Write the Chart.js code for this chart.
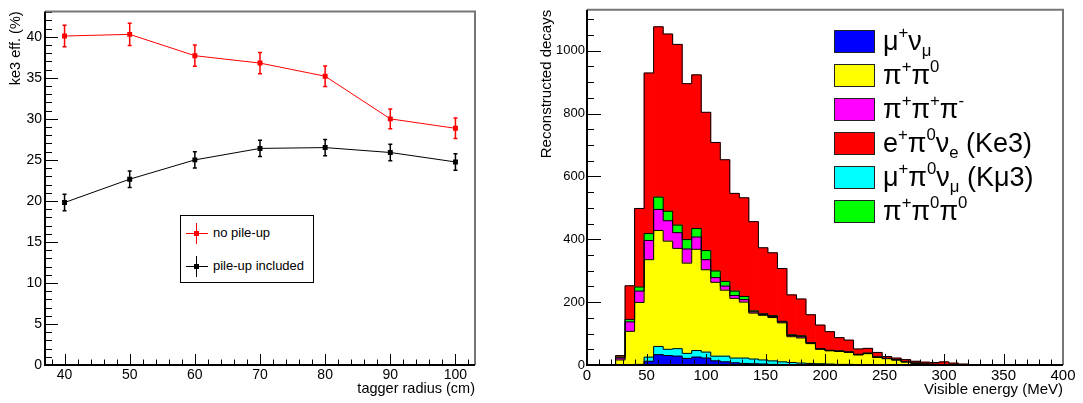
<!doctype html>
<html lang="en">
<head>
<meta charset="utf-8">
<title>Ke3 efficiency and visible energy</title>
<script src="https://cdn.jsdelivr.net/npm/chart.js@4.4.1/dist/chart.umd.min.js"></script>
<style>
  body { margin: 0; background: #fff; font-family: "Liberation Sans", Arial, sans-serif; }
  #wrap { position: relative; width: 1083px; height: 403px; overflow: hidden; }
  canvas { position: absolute; top: 0; }
  #effChart { left: 0; }
  #energyChart { left: 530px; }

  /* left legend */
  #effLegend { position: absolute; left: 180px; top: 215px; width: 132px; height: 66px; border: 1px solid #000; background: #fff; }
  #effLegend .row { position: absolute; left: 0; width: 132px; height: 20px; }
  #effLegend .txt { position: absolute; left: 32px; top: 0; font-size: 13px; line-height: 20px; white-space: nowrap; }
  .mk-h { position: absolute; left: 5px; top: 10px; width: 22px; height: 1px; }
  .mk-v { position: absolute; left: 15px; top: 0; width: 1px; height: 21px; }
  .mk-s { position: absolute; left: 13px; top: 8px; width: 5px; height: 5px; }

  /* right legend */
  #decayLegend .box { position: absolute; left: 834px; width: 39px; height: 21px; border: 1px solid #222; }
  #decayLegend .txt { position: absolute; left: 883px; font-size: 27px; line-height: 23px; white-space: nowrap; }
  #decayLegend sup, #decayLegend sub { font-size: 62%; line-height: 0; position: relative; vertical-align: baseline; }
  #decayLegend sup { top: -0.72em; }
  #decayLegend sub { top: 0.38em; }
</style>
</head>
<body>
<div id="wrap">
  <canvas id="effChart" width="490" height="403"></canvas>
  <canvas id="energyChart" width="553" height="403"></canvas>

  <div id="effLegend">
    <div class="row" style="top:7px">
      <span class="mk-h" style="background:#ff0000"></span>
      <span class="mk-v" style="background:#ff0000"></span>
      <span class="mk-s" style="background:#ff0000"></span>
      <span class="txt">no pile-up</span>
    </div>
    <div class="row" style="top:40px">
      <span class="mk-h" style="background:#000"></span>
      <span class="mk-v" style="background:#000"></span>
      <span class="mk-s" style="background:#000"></span>
      <span class="txt">pile-up included</span>
    </div>
  </div>

  <div id="decayLegend">
    <div class="box" style="top:30px; background:#0000ff"></div>
    <div class="txt" style="top:30px">&mu;<sup>+</sup>&nu;<sub>&mu;</sub></div>
    <div class="box" style="top:64px; background:#ffff00"></div>
    <div class="txt" style="top:64px">&pi;<sup>+</sup>&pi;<sup>0</sup></div>
    <div class="box" style="top:98px; background:#ff00ff"></div>
    <div class="txt" style="top:98px">&pi;<sup>+</sup>&pi;<sup>+</sup>&pi;<sup>-</sup></div>
    <div class="box" style="top:132px; background:#ff0000"></div>
    <div class="txt" style="top:132px">e<sup>+</sup>&pi;<sup>0</sup>&nu;<sub>e</sub> (Ke3)</div>
    <div class="box" style="top:166px; background:#00ffff"></div>
    <div class="txt" style="top:166px">&mu;<sup>+</sup>&pi;<sup>0</sup>&nu;<sub>&mu;</sub> (K&mu;3)</div>
    <div class="box" style="top:200px; background:#00ff00"></div>
    <div class="txt" style="top:200px">&pi;<sup>+</sup>&pi;<sup>0</sup>&pi;<sup>0</sup></div>
  </div>
</div>

<script>
// ---- left panel: ke3 efficiency vs tagger radius ----
const radius = [40, 50, 60, 70, 80, 90, 100];
const effNoPileup = [40.1, 40.3, 37.7, 36.8, 35.2, 30.0, 28.85];
const errNoPileup = [1.3, 1.35, 1.3, 1.3, 1.25, 1.2, 1.25];
const effPileup = [19.8, 22.65, 25.0, 26.4, 26.5, 25.9, 24.75];
const errPileup = [1.0, 1.0, 1.0, 1.0, 1.0, 1.0, 1.0];

// ---- right panel: visible energy, 8 MeV bins (lower edges) ----
const energyBins = [24, 32, 40, 48, 56, 64, 72, 80, 88, 96, 104, 112, 120, 128, 136, 144, 152, 160, 168,
  176, 184, 192, 200, 208, 216, 224, 232, 240, 248, 256, 264, 272, 280, 288, 296, 304, 312, 320];
const binWidth = 8;
const countsMuNu = [0, 0, 1, 12, 33, 30, 28, 21, 25, 22, 13, 10, 7, 5, 4, 3, 2, 1, 1, 1,
  0, 0, 0, 0, 0, 0, 0, 0, 0, 0, 0, 0, 0, 0, 0, 0, 0, 0];
const countsKmu3 = [0, 1, 1, 13, 26, 20, 24, 16, 21, 19, 15, 18, 15, 17, 15, 13, 11, 9, 7, 5,
  5, 4, 3, 2, 2, 1, 1, 0, 0, 0, 0, 0, 0, 0, 0, 0, 0, 0];
const countsPiPi0 = [16, 106, 197, 310, 369, 344, 319, 287, 322, 262, 235, 210, 190, 178, 146, 142, 138, 124, 82, 80,
  63, 46, 42, 41, 38, 31, 35, 24, 20, 16, 10, 6, 3, 2, 1, 0, 0, 0];
const countsPiPiPi = [6, 30, 36, 61, 67, 65, 50, 45, 39, 32, 15, 13, 9, 8, 4, 3, 3, 3, 4, 4,
  2, 1, 1, 1, 1, 1, 1, 1, 1, 0, 0, 0, 0, 0, 0, 0, 0, 0];
const countsPiPi0Pi0 = [3, 8, 13, 22, 39, 30, 24, 30, 27, 29, 21, 15, 14, 10, 3, 2, 3, 2, 2, 3,
  1, 1, 1, 1, 1, 1, 1, 1, 0, 1, 0, 0, 0, 0, 0, 0, 0, 0];
const countsKe3 = [5, 107, 250, 511, 542, 564, 575, 496, 489, 440, 409, 387, 311, 314, 284, 210, 200, 168, 127, 117,
  89, 75, 59, 42, 37, 17, 15, 14, 6, 5, 7, 6, 6, 6, 9, 6, 3, 1];

Chart.defaults.font.family = '"Liberation Sans", Arial, sans-serif';
Chart.defaults.color = '#000';

// ROOT-like frame: ticks pointing inwards, minor ticks, grey top/right border
const rootAxes = {
  id: 'rootAxes',
  afterDraw(chart, args, o) {
    const { ctx, chartArea: a, scales: { x, y } } = chart;
    const isMajor = (v, step) => Math.abs(v / step - Math.round(v / step)) < 1e-6;
    ctx.save();
    ctx.strokeStyle = '#000';
    ctx.lineWidth = 1;
    ctx.beginPath();
    for (let v = Math.ceil(x.min / o.xMinor) * o.xMinor; v <= x.max + 1e-9; v += o.xMinor) {
      const px = Math.round(x.getPixelForValue(v)) + 0.5;
      const len = isMajor(v, o.xMajor) ? o.xMajorLen : o.xMinorLen;
      ctx.moveTo(px, a.bottom);
      ctx.lineTo(px, a.bottom - len);
    }
    for (let v = Math.ceil(y.min / o.yMinor) * o.yMinor; v <= y.max + 1e-9; v += o.yMinor) {
      const py = Math.round(y.getPixelForValue(v)) + 0.5;
      const len = isMajor(v, o.yMajor) ? o.yMajorLen : o.yMinorLen;
      ctx.moveTo(a.left, py);
      ctx.lineTo(a.left + len, py);
    }
    ctx.stroke();

    ctx.lineWidth = 2;
    ctx.strokeStyle = '#777';
    ctx.beginPath();
    ctx.moveTo(a.left, a.top);
    ctx.lineTo(a.right, a.top);
    ctx.lineTo(a.right, a.bottom);
    ctx.stroke();
    ctx.strokeStyle = '#000';
    ctx.beginPath();
    ctx.moveTo(a.left, a.top);
    ctx.lineTo(a.left, a.bottom);
    ctx.lineTo(a.right, a.bottom);
    ctx.stroke();
    ctx.restore();
  }
};

// vertical error bars with small caps
const errorBars = {
  id: 'errorBars',
  afterDatasetsDraw(chart) {
    const { ctx, scales: { y } } = chart;
    ctx.save();
    chart.data.datasets.forEach((ds, i) => {
      const meta = chart.getDatasetMeta(i);
      ctx.strokeStyle = ds.borderColor;
      ctx.lineWidth = 1.5;
      meta.data.forEach((pt, j) => {
        const v = ds.data[j].y, e = ds.errors[j];
        const top = y.getPixelForValue(v + e), bot = y.getPixelForValue(v - e);
        ctx.beginPath();
        ctx.moveTo(pt.x, top); ctx.lineTo(pt.x, bot);
        ctx.moveTo(pt.x - 2, top); ctx.lineTo(pt.x + 2, top);
        ctx.moveTo(pt.x - 2, bot); ctx.lineTo(pt.x + 2, bot);
        ctx.stroke();
      });
    });
    ctx.restore();
  }
};

function axisTitle(text, size, padding) {
  return { display: true, text: text, align: 'end', color: '#000', font: { size: size }, padding: padding };
}
const plainNumber = v => String(v);

new Chart(document.getElementById('effChart'), {
  type: 'line',
  data: {
    datasets: [
      {
        label: 'no pile-up',
        data: radius.map((r, i) => ({ x: r, y: effNoPileup[i] })),
        errors: errNoPileup,
        borderColor: '#ff0000', backgroundColor: '#ff0000',
        borderWidth: 1, pointStyle: 'rect', pointRadius: 3.5, pointBorderWidth: 0
      },
      {
        label: 'pile-up included',
        data: radius.map((r, i) => ({ x: r, y: effPileup[i] })),
        errors: errPileup,
        borderColor: '#000000', backgroundColor: '#000000',
        borderWidth: 1, pointStyle: 'rect', pointRadius: 3.5, pointBorderWidth: 0
      }
    ]
  },
  options: {
    responsive: false, animation: false, devicePixelRatio: 1,
    layout: { padding: { left: 0, top: 1, right: 15, bottom: 0 } },
    plugins: {
      legend: { display: false }, tooltip: { enabled: false },
      rootAxes: { xMajor: 10, xMinor: 2, xMajorLen: 11, xMinorLen: 5.5, yMajor: 5, yMinor: 1, yMajorLen: 13, yMinorLen: 7 }
    },
    scales: {
      x: {
        type: 'linear', min: 37, max: 103,
        grid: { display: false, drawTicks: false }, border: { display: false },
        ticks: { stepSize: 10, includeBounds: false, padding: 2, maxRotation: 0, font: { size: 14 }, callback: plainNumber },
        title: axisTitle('tagger radius (cm)', 14.5, { top: 0, bottom: 5 }),
        afterFit(s) { s.height = 38; }
      },
      y: {
        min: 0, max: 43.1,
        grid: { display: false, drawTicks: false }, border: { display: false },
        ticks: { stepSize: 5, includeBounds: false, padding: 3, font: { size: 14 }, callback: plainNumber },
        title: axisTitle('ke3 eff. (%)', 14.5, { top: 7, bottom: 0 }),
        afterFit(s) { s.width = 45; }
      }
    }
  },
  plugins: [errorBars, rootAxes]
});

// stacked histogram, bottom layer first
const layers = [
  { counts: countsMuNu, color: '#0000ff' },
  { counts: countsKmu3, color: '#00ffff' },
  { counts: countsPiPi0, color: '#ffff00' },
  { counts: countsPiPiPi, color: '#ff00ff' },
  { counts: countsPiPi0Pi0, color: '#00ff00' },
  { counts: countsKe3, color: '#ff0000' }
];

const histDatasets = layers.map(l => ({
  type: 'bar',
  data: l.counts.map((c, i) => ({ x: energyBins[i] + binWidth / 2, y: c })),
  backgroundColor: l.color,
  borderWidth: 0,
  barPercentage: 1, categoryPercentage: 1,
  order: 1
}));

// black step outline on top of each cumulative layer
let running = energyBins.map(() => 0);
const outlineDatasets = layers.map((l, k) => {
  running = running.map((s, i) => s + l.counts[i]);
  const pts = [{ x: energyBins[0], y: 0 }];
  running.forEach((s, i) => pts.push({ x: energyBins[i], y: s }));
  pts.push({ x: energyBins[energyBins.length - 1] + binWidth, y: 0 });
  return {
    type: 'line', data: pts, stepped: 'before', stack: 'outline' + k,
    borderColor: '#000', borderWidth: 1, pointRadius: 0, fill: false, order: 0
  };
});

new Chart(document.getElementById('energyChart'), {
  type: 'bar',
  data: { datasets: histDatasets.concat(outlineDatasets) },
  options: {
    responsive: false, animation: false, devicePixelRatio: 1,
    layout: { padding: { left: 0, top: 2, right: 20, bottom: 0 } },
    plugins: {
      legend: { display: false }, tooltip: { enabled: false },
      rootAxes: { xMajor: 50, xMinor: 10, xMajorLen: 11, xMinorLen: 5.5, yMajor: 200, yMinor: 50, yMajorLen: 14, yMinorLen: 7 }
    },
    scales: {
      x: {
        type: 'linear', min: 0, max: 400, stacked: true, offset: false,
        grid: { display: false, drawTicks: false }, border: { display: false },
        ticks: { stepSize: 50, includeBounds: false, padding: 2, maxRotation: 0, font: { size: 15 }, callback: plainNumber },
        title: axisTitle('Visible energy (MeV)', 15, { top: 0, bottom: 4 }),
        afterFit(s) { s.height = 38; }
      },
      y: {
        min: 0, max: 1130, stacked: true,
        grid: { display: false, drawTicks: false }, border: { display: false },
        ticks: { stepSize: 200, includeBounds: false, padding: 2, font: { size: 13 }, callback: plainNumber },
        title: axisTitle('Reconstructed decays', 15, { top: 8, bottom: 0 }),
        afterFit(s) { s.width = 57; }
      }
    }
  },
  plugins: [rootAxes]
});
</script>
</body>
</html>
